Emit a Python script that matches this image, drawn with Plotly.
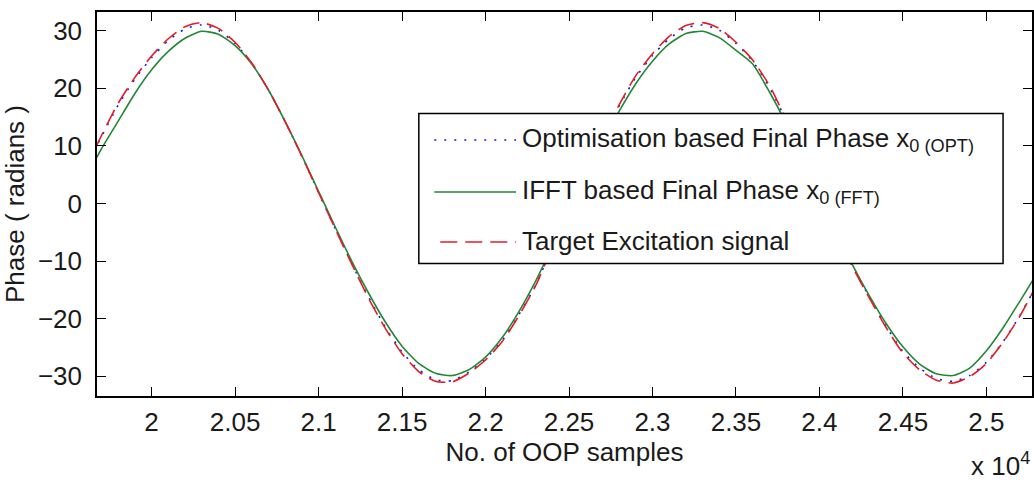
import plotly.graph_objects as go

# OOP sample index (x axis) and phase readings for each method
sample_no = [19600, 19700, 19800, 19900, 20000, 20100, 20200, 20300, 20400, 20500,
             20600, 20700, 20800, 20900, 21000, 21100, 21200, 21300, 21400, 21500,
             21600, 21700, 21800, 21900, 22000, 22100, 22200, 22300, 22400, 22500,
             22600, 22700, 22800, 22900, 23000, 23100, 23200, 23300, 23400, 23500,
             23600, 23700, 23800, 23900, 24000, 24100, 24200, 24300, 24400, 24500,
             24600, 24700, 24800, 24900, 25000, 25100, 25200, 25300]

phase_opt = [5.9, 11.6, 17.1, 21.6, 25.3, 28.3, 30.3, 31.0, 30.1, 27.8,
             24.3, 19.7, 14.2, 8.2, 1.9, -4.4, -10.5, -16.3, -21.5, -25.8,
             -28.9, -30.6, -30.8, -29.3, -27.0, -23.8, -19.3, -14.2, -7.6, -1.4,
             4.8, 11.0, 16.9, 21.9, 25.7, 28.6, 30.5, 31.0, 30.1, 27.8,
             24.7, 20.2, 14.5, 8.2, 1.6, -4.9, -11.0, -16.3, -21.4, -25.7,
             -28.6, -30.4, -30.9, -29.9, -27.6, -24.0, -19.5, -14.2]

phase_fft = [4.2, 9.5, 14.3, 19.1, 23.2, 26.4, 28.7, 29.9, 29.4, 27.4,
             24.2, 19.7, 14.2, 8.3, 2.1, -4.1, -10.1, -15.6, -20.6, -24.8,
             -27.8, -29.5, -29.9, -28.9, -26.7, -23.3, -18.8, -13.5, -7.5, -1.4,
             4.7, 10.6, 16.0, 20.8, 24.7, 27.7, 29.5, 29.9, 28.8, 26.6,
             24.2, 19.4, 13.9, 7.7, 1.4, -4.8, -10.8, -16.1, -20.9, -24.9,
             -27.9, -29.6, -29.9, -28.6, -25.6, -21.6, -17.0, -12.3]

phase_target = [5.8, 11.8, 17.4, 21.9, 25.6, 28.6, 30.7, 31.4, 30.4, 28.0,
                24.4, 19.7, 14.2, 8.2, 1.9, -4.4, -10.6, -16.5, -21.7, -26.1,
                -29.2, -30.9, -31.0, -29.5, -27.2, -24.0, -19.5, -14.3, -7.6, -1.4,
                4.9, 11.1, 17.1, 22.2, 26.0, 29.0, 30.9, 31.4, 30.4, 28.0,
                24.9, 20.5, 14.6, 8.2, 1.6, -4.9, -11.1, -16.5, -21.6, -26.0,
                -28.9, -30.7, -31.2, -30.1, -27.8, -24.1, -19.6, -14.2]

x_tick_vals = [20000, 20500, 21000, 21500, 22000, 22500, 23000, 23500, 24000, 24500, 25000]
x_tick_text = ["2", "2.05", "2.1", "2.15", "2.2", "2.25", "2.3", "2.35", "2.4", "2.45", "2.5"]
y_tick_vals = [-30, -20, -10, 0, 10, 20, 30]

series_names = ["Optimisation based Final Phase x<sub>0 (OPT)</sub>",
                "IFFT based Final Phase x<sub>0 (FFT)</sub>",
                "Target Excitation signal"]

# figure geometry (pixels)
W, H = 1034, 480
ML, MR, MT, MB = 97, 0, 12, 84
FONT = "Liberation Sans, Arial, sans-serif"
FS = 26
TXT = "#1a1a1a"

colors = ["rgb(25,25,225)", "rgb(35,135,55)", "rgb(225,30,40)"]
dashes = ["2px,8px", "solid", "17px,8px"]


def px_x(px):
    return (px - ML) / (W - ML - MR)


def px_y(py):
    return (H - MB - py) / (H - MB - MT)


fig = go.Figure()
for ys, name, col, dash in zip([phase_opt, phase_fft, phase_target], series_names, colors, dashes):
    fig.add_trace(go.Scatter(
        x=sample_no, y=ys, mode="lines", name=name, showlegend=False,
        line=dict(color=col, width=1.6, dash=dash, shape="spline", smoothing=0.6),
    ))

# boxed legend drawn over the curves
shapes = [dict(type="rect", xref="paper", yref="paper",
               x0=px_x(419.5), x1=px_x(1005), y0=px_y(263.5), y1=px_y(113.5),
               line=dict(color="black", width=1.5), fillcolor="white", layer="above")]
annotations = []
row_y = [139, 191, 241]
sample_start = [435, 435, 441]
for name, col, dash, ry, x0 in zip(series_names, colors, dashes, row_y, sample_start):
    shapes.append(dict(type="line", xref="paper", yref="paper",
                       x0=px_x(x0), x1=px_x(517), y0=px_y(ry + 1), y1=px_y(ry + 1),
                       line=dict(color=col, width=1.6, dash=dash), layer="above"))
    annotations.append(dict(xref="paper", yref="paper", x=px_x(521), y=px_y(ry),
                            xanchor="left", yanchor="middle", showarrow=False,
                            text=name, font=dict(family=FONT, size=FS, color=TXT)))

annotations.append(dict(xref="paper", yref="paper", x=px_x(1034), y=px_y(464),
                        xanchor="right", yanchor="middle", showarrow=False,
                        text="x 10<sup>4</sup>", font=dict(family=FONT, size=FS, color=TXT)))

fig.update_layout(
    width=W, height=H,
    margin=dict(l=ML, r=MR, t=MT, b=MB, pad=0),
    paper_bgcolor="white", plot_bgcolor="white",
    font=dict(family=FONT, size=FS, color=TXT),
    shapes=shapes, annotations=annotations,
    showlegend=False,
)
fig.update_xaxes(
    range=[19673, 25273], tickvals=x_tick_vals, ticktext=x_tick_text,
    ticks="inside", ticklen=9, tickwidth=1.2, tickcolor="black",
    showline=True, linecolor="black", linewidth=1.5, mirror="ticks",
    showgrid=False, zeroline=False, ticklabelstandoff=2,
    title=dict(text="No. of OOP samples", standoff=4, font=dict(family=FONT, size=FS)),
)
fig.update_yaxes(
    range=[-33.45, 33.25], tickvals=y_tick_vals,
    ticks="inside", ticklen=9, tickwidth=1.2, tickcolor="black",
    showline=True, linecolor="black", linewidth=1.5, mirror="ticks",
    showgrid=False, zeroline=False, ticklabelstandoff=8,
    title=dict(text="Phase ( radians )", standoff=8, font=dict(family=FONT, size=FS)),
)

fig.write_html("out.html")
